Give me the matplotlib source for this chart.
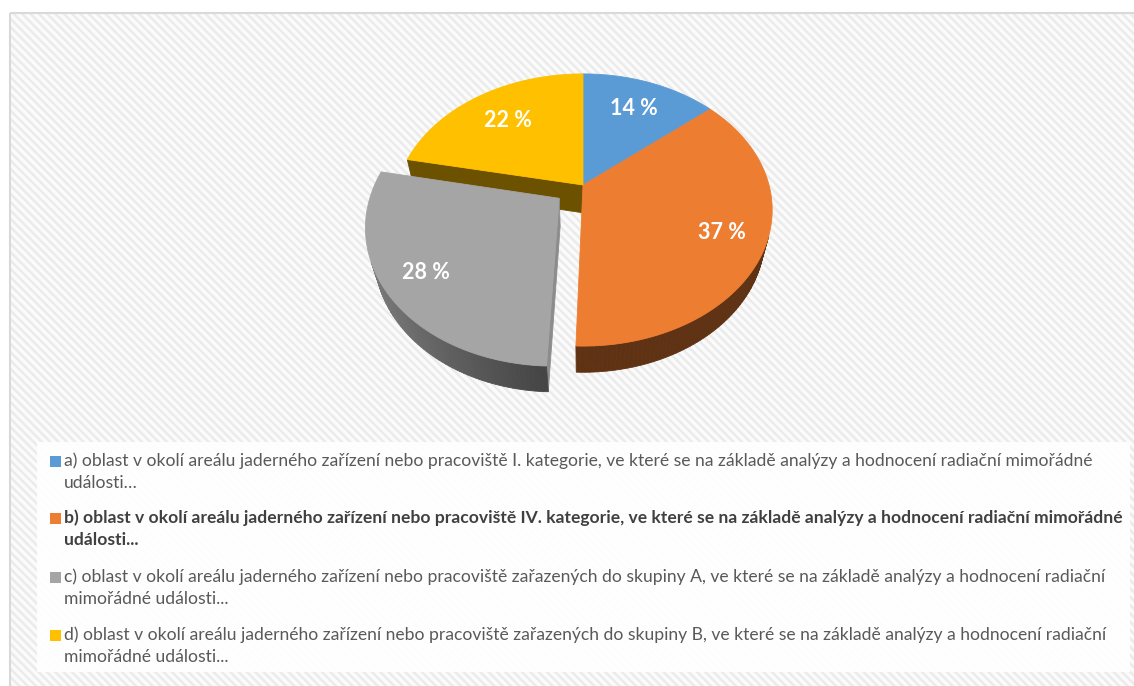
import matplotlib.pyplot as plt
import numpy as np
from matplotlib.patches import Polygon, Rectangle

plt.rcParams['font.family'] = ['Lato', 'DejaVu Sans']
plt.rcParams['hatch.linewidth'] = 1.8

# data
categories = [
    'a) oblast v okolí areálu jaderného zařízení nebo pracoviště I. kategorie, ve které se na základě analýzy a hodnocení radiační mimořádné\nudálosti…',
    'b) oblast v okolí areálu jaderného zařízení nebo pracoviště IV. kategorie, ve které se na základě analýzy a hodnocení radiační mimořádné\nudálosti...',
    'c) oblast v okolí areálu jaderného zařízení nebo pracoviště zařazených do skupiny A, ve které se na základě analýzy a hodnocení radiační\nmimořádné události...',
    'd) oblast v okolí areálu jaderného zařízení nebo pracoviště zařazených do skupiny B, ve které se na základě analýzy a hodnocení radiační\nmimořádné události...',
]
values = [14, 37, 28, 22]
colors = ['#5B9BD5', '#ED7D31', '#A5A5A5', '#FFC000']
explode = [0, 0, 0.16, 0]
bold_entry = 1

# 3d view (pixel space)
cx, cy = 583, 185
phi = np.radians(45)
dist = 3.85
focal = 716
height = 0.22

cam = np.array([0, -dist * np.cos(phi), dist * np.sin(phi)])
fwd = -cam / np.linalg.norm(cam)
right = np.array([1.0, 0, 0])
up = np.cross(right, fwd)


def proj(p):
    p = np.atleast_2d(p)
    v = p - cam
    d = v @ fwd
    sx = focal * (v @ right) / d
    sy = focal * (v @ up) / d
    return np.column_stack([cx + sx, cy - sy]), d


def pt(theta, r, z, off):
    return np.array([off[0] + r * np.sin(theta), off[1] + r * np.cos(theta), z])


def shade(col, k):
    c = np.array(plt.matplotlib.colors.to_rgb(col))
    return tuple(np.clip(c * k, 0, 1))


fig = plt.figure(figsize=(11.34, 6.86), dpi=100)
ax = fig.add_axes([0, 0, 1, 1])
ax.set_xlim(0, 1134)
ax.set_ylim(686, 0)
ax.axis('off')

# chart area with diagonal pattern
ax.add_patch(Rectangle((10, 13), 1140, 700, facecolor='#fbfbfb', edgecolor='#ebebeb',
                       hatch='\\\\\\\\', lw=0, zorder=0))
ax.add_patch(Rectangle((10, 13), 1140, 700, fill=False, edgecolor='#d9d9d9', lw=1.5, zorder=1))

frac = np.array(values) / sum(values)
edges = np.concatenate([[0], np.cumsum(frac)]) * 2 * np.pi
n = len(values)

walls = []  # (depth, polygon, color)
tops = []
for i in range(n):
    t1, t2 = edges[i], edges[i + 1]
    mid = (t1 + t2) / 2
    off = (explode[i] * np.sin(mid), explode[i] * np.cos(mid))
    ts = np.linspace(t1, t2, max(int((t2 - t1) / 0.02), 2))

    # top face
    poly = [pt(0, 0, 0, off)] + [pt(t, 1, 0, off) for t in ts]
    xy, _ = proj(np.array(poly))
    tops.append((xy, colors[i]))

    # outer wall
    for a, b in zip(ts[:-1], ts[1:]):
        m = (a + b) / 2
        nrm = np.array([np.sin(m), np.cos(m), 0])
        c3 = pt(m, 1, -height / 2, off)
        if nrm @ (cam - c3) <= 0:
            continue
        quad = np.array([pt(a, 1, 0, off), pt(b, 1, 0, off), pt(b, 1, -height, off), pt(a, 1, -height, off)])
        xy, d = proj(quad)
        k = 0.40 + 0.38 * max(0, -np.sin(m))
        walls.append((d.mean(), xy, shade(colors[i], k)))

    # cut faces next to an exploded slice
    for t, side, j in [(t1, -1, (i - 1) % n), (t2, 1, (i + 1) % n)]:
        if explode[i] == 0 and explode[j] == 0:
            continue
        na = t + side * np.pi / 2
        nrm = np.array([np.sin(na), np.cos(na), 0])
        c3 = pt(t, 0.5, -height / 2, off)
        if nrm @ (cam - c3) <= 0:
            continue
        quad = np.array([pt(t, 0, 0, off), pt(t, 1, 0, off), pt(t, 1, -height, off), pt(t, 0, -height, off)])
        xy, d = proj(quad)
        k = 0.85 if np.sin(na) > 0 else 0.42
        walls.append((d.mean(), xy, shade(colors[i], k)))

for d, xy, col in sorted(walls, key=lambda w: -w[0]):
    ax.add_patch(Polygon(xy, closed=True, facecolor=col, edgecolor=col, lw=0.6, zorder=2))
for xy, col in tops:
    ax.add_patch(Polygon(xy, closed=True, facecolor=col, edgecolor=col, lw=0.6, zorder=3))

# data labels
label_r = [0.72, 0.78, 0.80, 0.70]
for i in range(n):
    mid = (edges[i] + edges[i + 1]) / 2
    off = (explode[i] * np.sin(mid), explode[i] * np.cos(mid))
    xy, _ = proj(pt(mid, label_r[i], 0, off))
    ax.text(xy[0, 0], xy[0, 1], f'{values[i]} %', color='white', fontsize=15.5,
            fontweight='bold', ha='center', va='center', zorder=4)

# legend
ax.add_patch(Rectangle((37, 442), 1093, 230, facecolor='white', edgecolor='none', alpha=0.92, zorder=1))
entry_y = [461, 518, 577, 635]
for i, label in enumerate(categories):
    y0 = entry_y[i]
    ax.add_patch(Rectangle((50, y0 - 5.5), 11, 11, facecolor=colors[i], edgecolor='none', zorder=4))
    bold = i == bold_entry
    for k, line in enumerate(label.split('\n')):
        ax.text(64, y0 + 22 * k, line, fontsize=12.6, ha='left', va='center',
                color='#404040' if bold else '#595959',
                fontweight='bold' if bold else 'normal', zorder=4)

fig.savefig('out.png', dpi=100)
